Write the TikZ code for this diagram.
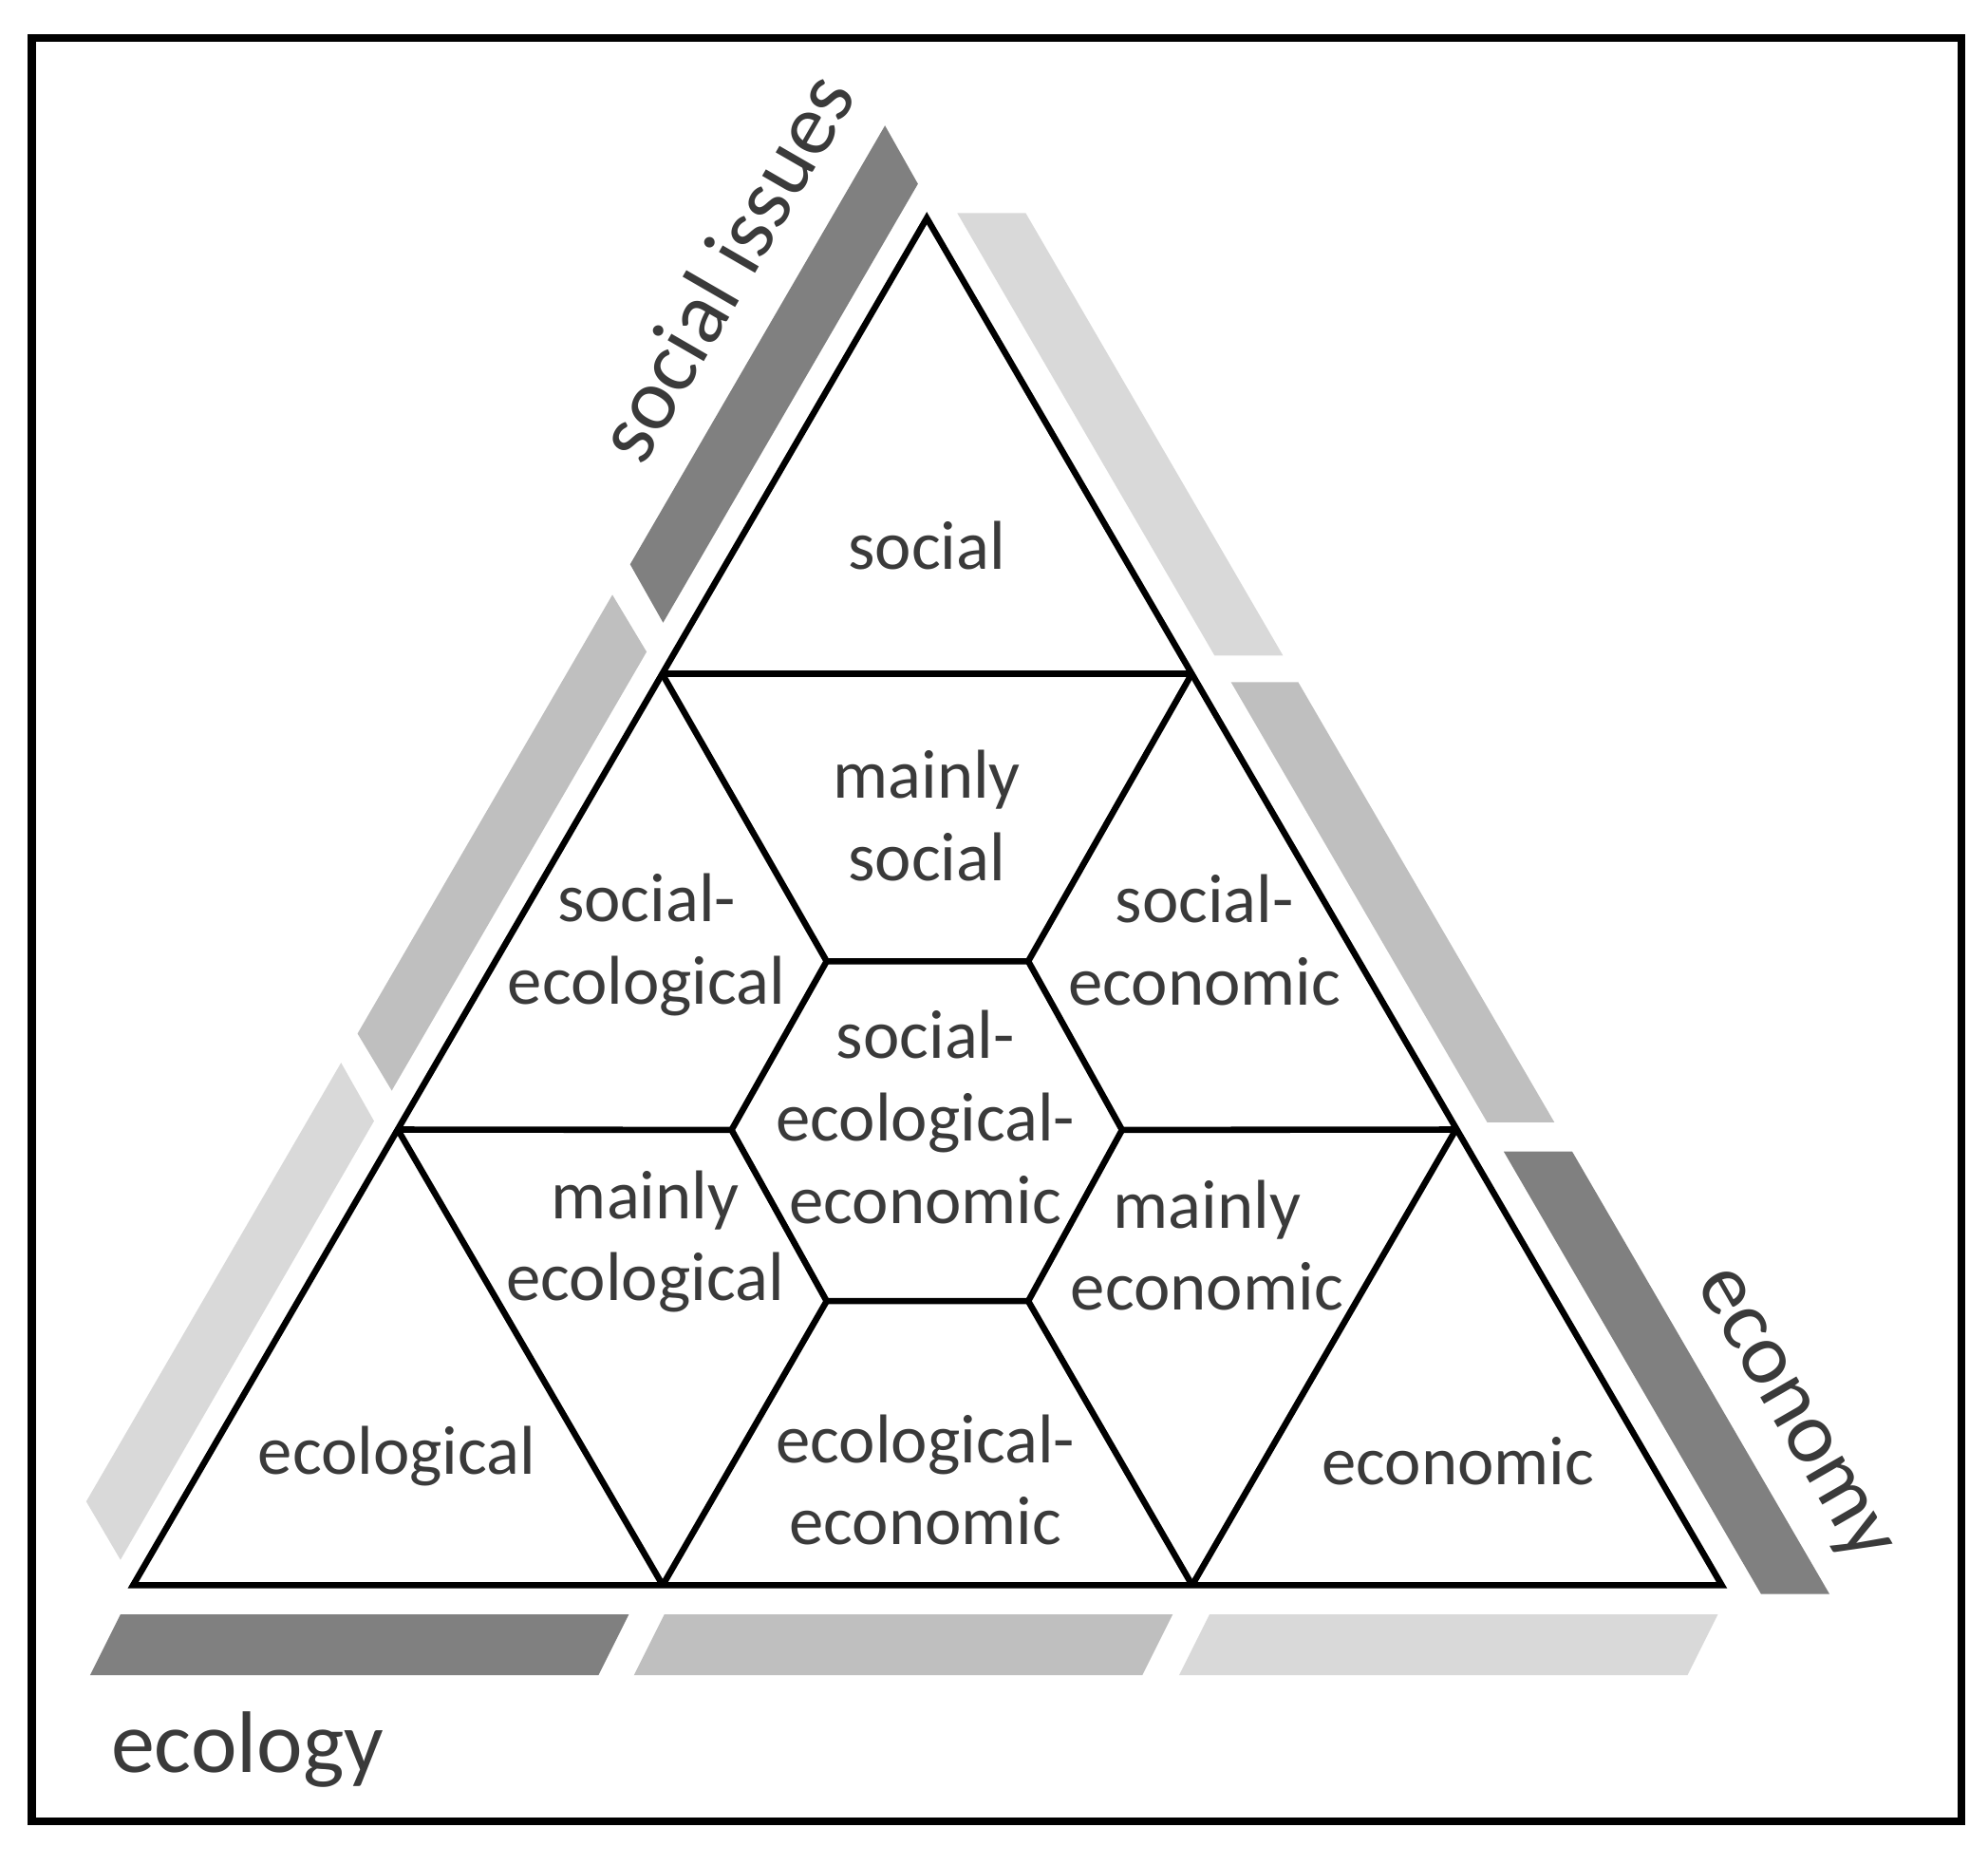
\documentclass[tikz,border=0pt]{standalone}
\usepackage{fontspec}
\setmainfont{Carlito}
\usepackage{xcolor}
\definecolor{banddark}{RGB}{128,128,128}
\definecolor{bandmid}{RGB}{191,191,191}
\definecolor{bandlight}{RGB}{217,217,217}
\definecolor{txtgray}{RGB}{58,58,58}

\tikzset{
  cell/.style={align=center, inner sep=0pt, text=txtgray, font=\fontsize{15.5}{18.5}\selectfont},
  axislabel/.style={inner sep=0pt, text=txtgray, font=\fontsize{19.6}{23}\selectfont},
  gridline/.style={line width=1.4pt},
}

\begin{document}
\begin{tikzpicture}[x=0.1mm, y=-0.1mm]

\useasboundingbox (0,0) rectangle (1568,1470);
\draw[line width=1.8pt] (25,30) rectangle (1547,1436);

%%%%%
%% bands along the sides
%%%%%
% ecology (bottom)
\fill[banddark]  (95,1273) -- (496,1273) -- (472,1321) -- (71,1321) -- cycle;
\fill[bandmid]   (524,1273) -- (925,1273) -- (901,1321) -- (500,1321) -- cycle;
\fill[bandlight] (954,1273) -- (1355,1273) -- (1331,1321) -- (930,1321) -- cycle;

% social issues (left)
\fill[bandlight] (68,1184) -- (95,1230) -- (295,884) -- (269,838) -- cycle;
\fill[bandmid]   (282,815) -- (309,860) -- (510,514) -- (483,469) -- cycle;
\fill[banddark]  (497,445) -- (523,491) -- (724,145) -- (698,99) -- cycle;

% economy (right)
\fill[bandlight] (755,168) -- (809,168) -- (1012,517) -- (958,517) -- cycle;
\fill[bandmid]   (971,538) -- (1024,538) -- (1226,885) -- (1173,885) -- cycle;
\fill[banddark]  (1186,908) -- (1240,908) -- (1443,1257) -- (1389,1257) -- cycle;

\node[axislabel, rotate=60, anchor=base] (social issues) at (592,222) {social issues};
\node[axislabel, rotate=-60, anchor=base] (economy) at (1401,1123) {economy};
\node[axislabel, anchor=base west] (ecology) at (87,1398) {ecology};

%%%%%
%% triangle grid
%%%%%
\coordinate (A) at (731,172);
\coordinate (B) at (105,1250);
\coordinate (C) at (1358,1250);

\coordinate (L1) at (522.3,531.3);
\coordinate (R1) at (940,531.3);
\coordinate (L2) at (313.7,890.7);
\coordinate (R2) at (1148.3,890.7);
\coordinate (B1) at (522.7,1250);
\coordinate (B2) at (940.3,1250);

% hexagon
\coordinate (H1) at (652,758);
\coordinate (H2) at (811,758);
\coordinate (H3) at (885,891);
\coordinate (H4) at (811,1026);
\coordinate (H5) at (652,1026);
\coordinate (H6) at (577,891);

\draw[gridline] (A) -- (B) -- (C) -- cycle;
\draw[gridline] (L1) -- (R1);
\draw[gridline] (L2) -- (H6);
\draw[gridline] (H3) -- (R2);
\draw[gridline] (L1) -- (H1);
\draw[gridline] (R1) -- (H2);
\draw[gridline] (L2) -- (B1);
\draw[gridline] (R2) -- (B2);
\draw[gridline] (H5) -- (B1);
\draw[gridline] (H4) -- (B2);
\draw[gridline] (H1) -- (H2) -- (H3) -- (H4) -- (H5) -- (H6) -- cycle;

%%%%%
%% cell texts
%%%%%
\node[cell] (social) at (731,430) {social};
\node[cell] (mainly social) at (731,643) {mainly\\social};
\node[cell] (soc eco) at (510,745) {social-\\ecological};
\node[cell] (soc econ) at (950,741) {social-\\economic};
\node[cell] (all three) at (730,881) {social-\\ecological-\\economic};
\node[cell] (mainly eco) at (509,979) {mainly\\ecological};
\node[cell] (mainly econ) at (952,982) {mainly\\economic};
\node[cell] (ecological) at (313,1148) {ecological};
\node[cell] (eco econ) at (730,1167) {ecological-\\economic};
\node[cell] (economic) at (1150,1152) {economic};

\end{tikzpicture}
\end{document}
